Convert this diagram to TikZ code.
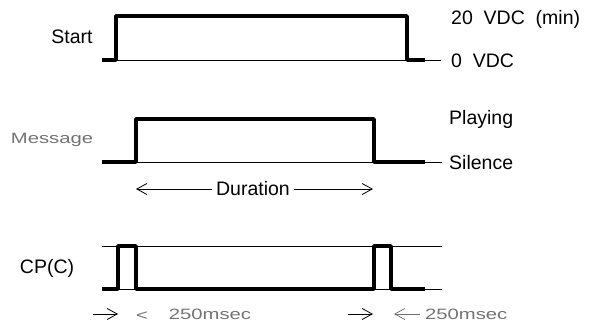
\documentclass[tikz,border=0pt]{standalone}
\usepackage{fontspec}
\setmainfont{Liberation Sans}
\usetikzlibrary{arrows.meta}
\newcommand{\widetext}[1]{\scalebox{1.35}[1]{#1}}

\begin{document}
\begin{tikzpicture}[x=1pt,y=-1pt,
        lbl/.style={inner sep=0pt,font=\fontsize{19.5}{21}\selectfont},
        faint/.style={inner sep=0pt,text=black!55,font=\fontsize{15}{17}\selectfont},
        sig/.style={line width=3.6pt,line join=round},
        ref/.style={line width=0.9pt},
        >={Straight Barb[length=10pt,width=11pt,line width=0.8pt]}]
        \useasboundingbox (0,0) rectangle (589,326);

        % Start
        \draw[ref] (116,60) -- (441,60);
        \draw[sig] (102,60) -- (116,60) -- (116,16) -- (407,16) -- (407,60) -- (425,60);
        \node[lbl] (start) at (72,37) {Start};
        \node[lbl,anchor=west] (vmin) at (451,19) {20\ \ VDC\ \ (min)};
        \node[lbl,anchor=west] (vzero) at (451,61) {0\ \ VDC};

        % Message
        \draw[ref] (102,162) -- (442,162);
        \draw[sig] (102,162) -- (136,162) -- (136,119) -- (374,119) -- (374,162) -- (425,162);
        \node[faint] (msg) at (52,140) {\widetext{Message}};
        \node[lbl,anchor=west] (play) at (449,119) {Playing};
        \node[lbl,anchor=west] (silence) at (449,163) {Silence};
        \node[lbl,inner xsep=4pt] (dur) at (253,189) {Duration};
        \coordinate (dl) at (136,189);
        \coordinate (dr) at (373,189);
        \draw[->,ref] (dur.west) -- (dl);
        \draw[->,ref] (dur.east) -- (dr);

        % CP(C)
        \foreach \y in {246,289}
        \draw[ref] (102,\y) -- (442,\y);
        \draw[sig] (102,289) -- (118,289) -- (118,246) -- (136,246) -- (136,289)
                -- (374,289) -- (374,246) -- (391,246) -- (391,289) -- (425,289);
        \node[lbl] (cp) at (47,268) {CP(C)};

        % timing marks
        \coordinate (a1) at (93,314);
        \coordinate (a2) at (118,314);
        \draw[->,ref] (a1) -- (a2);
        \node[faint] (lt) at (142,316) {\widetext{<}};
        \node[faint] (t1) at (210,314) {\widetext{250msec}};
        \coordinate (b1) at (348,314);
        \coordinate (b2) at (373,314);
        \draw[->,ref] (b1) -- (b2);
        \node[faint,anchor=west] (t2) at (425,314) {\widetext{250msec}};
        \coordinate (c2) at (394,314);
        \draw[->,ref,black!55,shorten <=5pt] (t2.west) -- (c2);

\end{tikzpicture}
\end{document}
